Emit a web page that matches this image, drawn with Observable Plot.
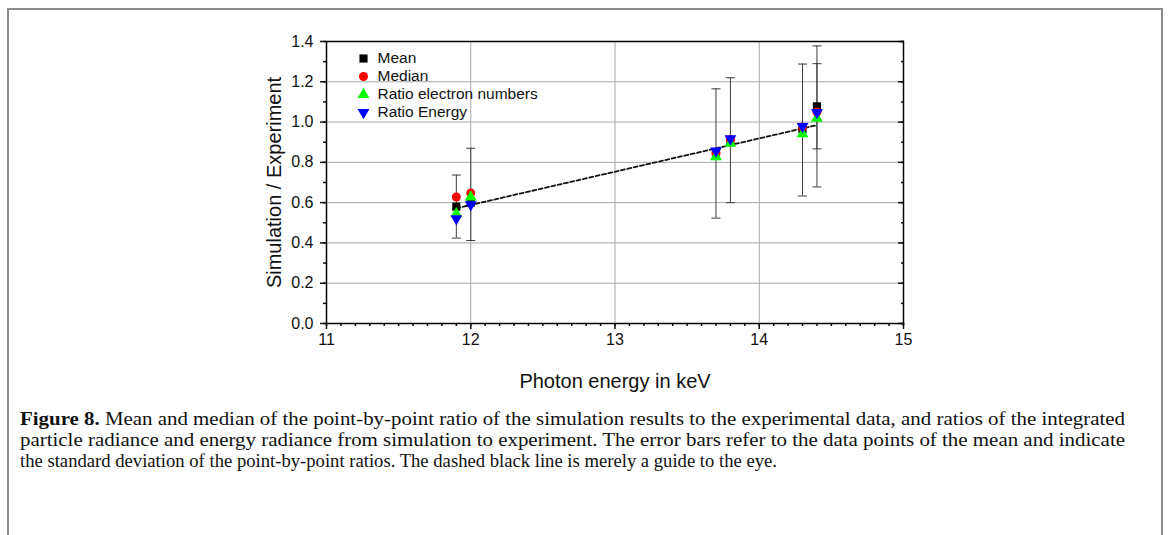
<!DOCTYPE html>
<html>
<head>
<meta charset="utf-8">
<script src="https://cdn.jsdelivr.net/npm/d3@7"></script>
<script src="https://cdn.jsdelivr.net/npm/@observablehq/plot@0.6"></script>
<style>
  body { margin: 0; background: #fff; }
  #wrap { position: relative; width: 1170px; height: 535px; overflow: hidden; font-family: "Liberation Sans", Arial, sans-serif; }
  #frame { position: absolute; left: 7px; top: 8px; width: 1156px; height: 600px; border: 2px solid #8c8c8c; border-bottom: none; box-sizing: border-box; }
  #chart { position: absolute; left: 0; top: 0; }
  #caption { position: absolute; left: 0; top: 400px; }
</style>
</head>
<body>
<div id="wrap">
  <div id="frame"></div>
  <div id="chart"></div>
  <svg id="caption" width="1170" height="90" font-family="'Liberation Serif', 'DejaVu Serif', serif" font-size="18" fill="#111">
    <text id="cap1" x="20" y="25" lengthAdjust="spacingAndGlyphs"><tspan font-weight="bold">Figure 8.</tspan> Mean and median of the point-by-point ratio of the simulation results to the experimental data, and ratios of the integrated</text>
    <text id="cap2" x="20" y="46" lengthAdjust="spacingAndGlyphs">particle radiance and energy radiance from simulation to experiment. The error bars refer to the data points of the mean and indicate</text>
    <text id="cap3" x="20" y="67" lengthAdjust="spacingAndGlyphs">the standard deviation of the point-by-point ratios. The dashed black line is merely a guide to the eye.</text>
  </svg>
</div>
<script>
// ---- data ----
const energies      = [11.9, 12.0, 13.7, 13.8, 14.3, 14.4];
const meanValues    = [0.580, 0.600, 0.850, 0.910, 0.965, 1.078];
const medianValues  = [0.628, 0.648, 0.845, 0.913, 0.975, 1.050];
const electronRatio = [0.545, 0.628, 0.828, 0.895, 0.942, 1.018];
const energyRatio   = [0.520, 0.590, 0.857, 0.918, 0.978, 1.048];
const errLow        = [0.424, 0.412, 0.523, 0.600, 0.633, 0.678];
const errHigh       = [0.737, 0.870, 1.165, 1.220, 1.288, 1.378];
// second, narrower error bar at 14.4 keV
const extraErrX     = [14.4];
const extraErrLow   = [0.867];
const extraErrHigh  = [1.290];
// guide line (dashed)
const guideX = [11.9, 14.4];
const guideY = [0.572, 0.985];
// ticks
const xMajor = [11, 12, 13, 14, 15];
const xMinor = d3.range(110, 151).map(v => v / 10);
const yMajor = [0, 0.2, 0.4, 0.6, 0.8, 1.0, 1.2, 1.4];
const yMinor = d3.range(0, 15).map(v => v / 10);
const seriesNames = ["Mean", "Median", "Ratio electron numbers", "Ratio Energy"];
const seriesColors = ["#000000", "#ff0000", "#00ff00", "#0000ff"];

// ---- build tables ----
const seriesValues = [meanValues, medianValues, electronRatio, energyRatio];
const bars = energies.map((x, i) => ({x, lo: errLow[i], hi: errHigh[i]}))
  .concat(extraErrX.map((x, i) => ({x, lo: extraErrLow[i], hi: extraErrHigh[i]})));
const caps = bars.flatMap(b => [{x: b.x, y: b.lo}, {x: b.x, y: b.hi}]);
const guide = guideX.map((x, i) => ({x, y: guideY[i]}));

const symbolOf = ["square", "circle", "triangle", "triangle"];
const rotateOf = [0, 0, 0, 180];
const rOf = [4.6, 4.5, 4.4, 4.4];

const capSymbol = {
  draw(ctx, size) {
    const w = Math.sqrt(size / Math.PI);
    ctx.moveTo(-w, 0);
    ctx.lineTo(w, 0);
  }
};

const W = 1170, H = 400;
const marks = [
  Plot.gridX(xMajor, {stroke: "#a8a8a8", strokeOpacity: 1, strokeWidth: 1}),
  Plot.gridY(yMajor, {stroke: "#a8a8a8", strokeOpacity: 1, strokeWidth: 1}),
  // bottom axis
  Plot.axisX({ticks: xMinor, tickSize: 3, strokeWidth: 1.5, tickFormat: () => "", label: null}),
  Plot.axisX({ticks: xMajor, tickSize: 6, strokeWidth: 1.5, tickPadding: 4, fontSize: 16, tickFormat: d => String(d), label: null}),
  // left axis
  Plot.axisY({ticks: yMinor, tickSize: 3, strokeWidth: 1.5, tickFormat: () => "", label: null}),
  Plot.axisY({ticks: yMajor, tickSize: 6, strokeWidth: 1.5, tickPadding: 7, fontSize: 16, tickFormat: d3.format(".1f"), label: null}),
  // right axis, inward ticks
  Plot.axisY({anchor: "right", ticks: yMinor, tickSize: 3, dx: -3, strokeWidth: 1.5, tickFormat: () => "", label: null}),
  Plot.axisY({anchor: "right", ticks: yMajor, tickSize: 6, dx: -6, strokeWidth: 1.5, tickFormat: () => "", label: null}),
  Plot.frame({stroke: "#000", strokeWidth: 1.5}),
  // axis titles
  Plot.text(["Photon energy in keV"], {frameAnchor: "bottom", lineAnchor: "middle", dy: 58, fontSize: 20, fill: "#111"}),
  Plot.text(["Simulation / Experiment"], {frameAnchor: "left", textAnchor: "middle", lineAnchor: "middle", dx: -52, rotate: -90, fontSize: 20, fill: "#111"}),
  // guide line
  Plot.line(guide, {x: "x", y: "y", stroke: "#111", strokeWidth: 1.8, strokeDasharray: "4,2.5"}),
  // error bars
  Plot.ruleX(bars, {x: "x", y1: "lo", y2: "hi", stroke: "#3c3c3c", strokeWidth: 1}),
  Plot.dot(caps, {x: "x", y: "y", symbol: capSymbol, r: 4.5, stroke: "#3c3c3c", strokeWidth: 1, fill: "none"})
];

seriesValues.forEach((vals, k) => {
  marks.push(Plot.dot(energies.map((x, i) => ({x, y: vals[i]})), {
    x: "x", y: "y", symbol: symbolOf[k], r: rOf[k], fill: seriesColors[k], rotate: rotateOf[k], stroke: "none"
  }));
});

// legend inside the plot frame
seriesNames.forEach((name, k) => {
  const dy = 17 + 18 * k;
  marks.push(Plot.dot([name], {frameAnchor: "top-left", dx: 37, dy, symbol: symbolOf[k], r: rOf[k], fill: seriesColors[k], rotate: rotateOf[k], stroke: "none"}));
  marks.push(Plot.text([name], {frameAnchor: "top-left", dx: 51, dy, text: d => d, textAnchor: "start", lineAnchor: "middle", fontSize: 15.5, fill: "#111"}));
});

const chart = Plot.plot({
  width: W,
  height: H,
  marginLeft: 326,
  marginRight: W - 903,
  marginTop: 41,
  marginBottom: H - 323,
  x: {domain: [11, 15]},
  y: {domain: [0, 1.4]},
  style: {fontFamily: "'Liberation Sans', Arial, sans-serif", fontSize: "14px", color: "#111", background: "transparent", overflow: "visible"},
  marks
});
document.getElementById("chart").appendChild(chart);

// fit caption lines to the widths seen in the reference
[["cap1", 1105], ["cap2", 1105], ["cap3", 757]].forEach(([id, w]) => {
  document.getElementById(id).setAttribute("textLength", w);
});
</script>
</body>
</html>
